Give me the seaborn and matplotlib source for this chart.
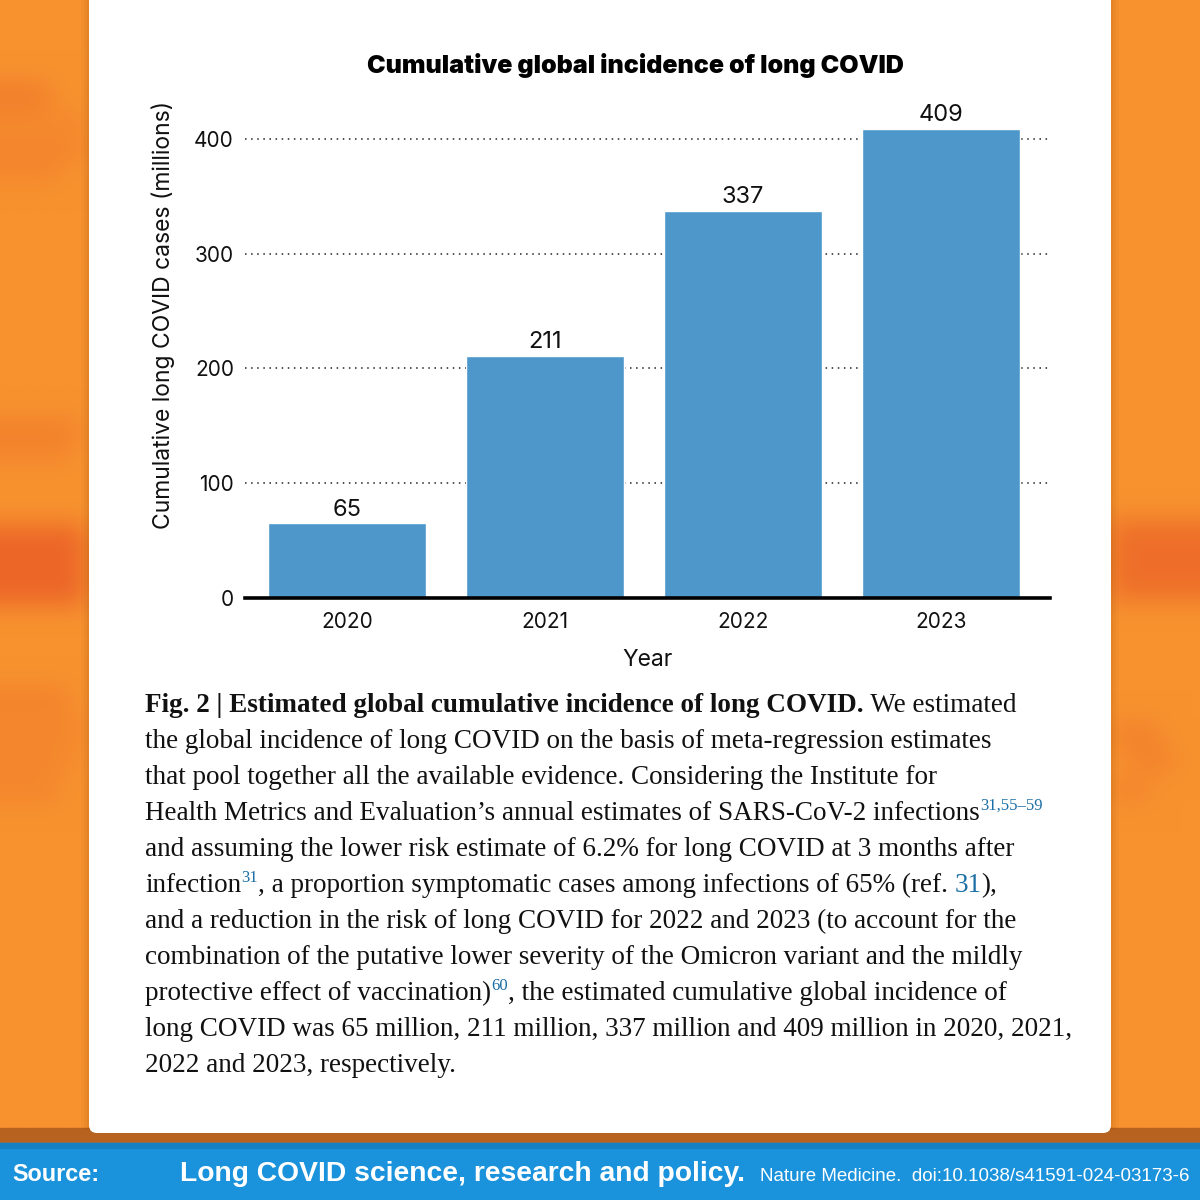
import numpy as np
import matplotlib
matplotlib.use("Agg")
import matplotlib.pyplot as plt
import seaborn as sns
import pandas as pd
from matplotlib.patches import Rectangle, FancyBboxPatch

# chart data
years = ["2020", "2021", "2022", "2023"]
cases = [65, 211, 337, 409]
y_ticks = [0, 100, 200, 300, 400]

title = "Cumulative global incidence of long COVID"
x_label = "Year"
y_label = "Cumulative long COVID cases (millions)"

# caption, one list of (text, kind) per printed line
caption_lines = [
    [("Fig. 2 | Estimated global cumulative incidence of long COVID.", "bold"), (" We estimated", "text")],
    [("the global incidence of long COVID on the basis of meta-regression estimates", "text")],
    [("that pool together all the available evidence. Considering the Institute for", "text")],
    [("Health Metrics and Evaluation\u2019s annual estimates of SARS-CoV-2 infections", "text"), ("31,55\u201359", "sup")],
    [("and assuming the lower risk estimate of 6.2% for long COVID at 3 months after", "text")],
    [("infection", "text"), ("31", "sup"), (", a proportion symptomatic cases among infections of 65% (ref. ", "text"),
     ("31", "ref"), ("),", "text")],
    [("and a reduction in the risk of long COVID for 2022 and 2023 (to account for the", "text")],
    [("combination of the putative lower severity of the Omicron variant and the mildly", "text")],
    [("protective effect of vaccination)", "text"), ("60", "sup"), (", the estimated cumulative global incidence of", "text")],
    [("long COVID was 65 million, 211 million, 337 million and 409 million in 2020, 2021,", "text")],
    [("2022 and 2023, respectively.", "text")],
]

footer = [("Source:", "src"), ("Long COVID science, research and policy.", "head"),
          ("Nature Medicine.  doi:10.1038/s41591-024-03173-6", "doi")]

W, H = 1200, 1200
ORANGE = np.array([247, 146, 47]) / 255
DARK = np.array([236, 102, 40]) / 255
BAR = "#4D97CA"
BLUE_REF = "#1C6FA6"

sns.set_theme(style="white")
chart_font = ["Inter", "Liberation Sans", "DejaVu Sans"]
serif_font = ["Liberation Serif", "DejaVu Serif"]
plt.rcParams["font.family"] = chart_font

fig = plt.figure(figsize=(12, 12), dpi=100)
renderer = fig.canvas.get_renderer()

# background layer in pixel coordinates
bg = fig.add_axes([0, 0, 1, 1], zorder=0)
bg.set_xlim(0, W)
bg.set_ylim(H, 0)
bg.axis("off")

cell = 5
n = W // cell
shade = np.zeros((n, n))
patches = [
    (0, 50, 85, 105, 0.6), (0, 85, 115, 132, 0.35), (0, 85, 142, 160, 0.35), (0, 60, 166, 184, 0.35),
    (0, 80, 420, 440, 0.45), (0, 70, 446, 464, 0.4),
    (0, 89, 525, 605, 1.0), (1111, 1200, 520, 600, 0.8),
    (0, 70, 690, 710, 0.45), (0, 85, 720, 740, 0.35), (0, 75, 750, 770, 0.35), (0, 60, 780, 800, 0.35),
    (1111, 1160, 725, 745, 0.45), (1130, 1175, 752, 772, 0.4), (1111, 1150, 782, 800, 0.35),
]
for x0, x1, y0, y1, s in patches:
    shade[y0 // cell:y1 // cell, x0 // cell:x1 // cell] = s
k = np.ones(5) / 5
for _ in range(3):
    p = np.pad(shade, 2, mode="edge")
    shade = np.apply_along_axis(lambda r: np.convolve(r, k, mode="valid"), 0, p)[:, 2:-2]
    p = np.pad(shade, 2, mode="edge")
    shade = np.apply_along_axis(lambda r: np.convolve(r, k, mode="valid"), 1, p)[2:-2, :]
shade = np.clip(shade, 0, 1)
img = ORANGE[None, None, :] * (1 - shade[..., None]) + DARK[None, None, :] * shade[..., None]
bg.imshow(img, extent=(0, W, H, 0), interpolation="bilinear", aspect="auto", zorder=0)

# card shadow and card
bg.add_patch(Rectangle((0, 1128), W, 16, color="#B8621F", zorder=1))
for i, a in enumerate([0.08, 0.05, 0.03]):
    bg.add_patch(Rectangle((89 - 2 - 3 * i, -10), 1022 + 4 + 6 * i, 1140, color="#7a3a00", alpha=a, lw=0, zorder=1))
bg.add_patch(FancyBboxPatch((89, -20), 1022, 1153, boxstyle="round,pad=0,rounding_size=8",
                            fc="white", ec="none", zorder=2))

# footer bar
bg.add_patch(Rectangle((0, 1143), W, 57, color="#1A93DC", zorder=2))
bg.add_patch(Rectangle((0, 1143), W, 5, color="#1580C4", zorder=2))

# chart
ax = fig.add_axes([245 / W, (H - 598) / H, 805 / W, 482 / H], zorder=3)
ax.set_facecolor("none")
df = pd.DataFrame({"year": years, "cases": cases})
sns.barplot(data=df, x="year", y="cases", color=BAR, saturation=1, width=0.8, ax=ax, zorder=3)
ax.set_xlim(-0.515, 3.551)
ax.set_ylim(0, 420)
ax.set_yticks(y_ticks)
ax.yaxis.grid(True, linestyle=(0, (1, 3)), color="#222222", linewidth=1.1)
ax.set_axisbelow(True)
for side in ["left", "top", "right"]:
    ax.spines[side].set_visible(False)
ax.spines["bottom"].set_linewidth(2.6)
ax.spines["bottom"].set_color("black")
ax.spines["bottom"].set_zorder(4)
ax.tick_params(axis="both", length=0, labelsize=15, labelcolor="#111111")
ax.tick_params(axis="y", pad=8)
ax.tick_params(axis="x", pad=10)
ax.bar_label(ax.containers[0], labels=[str(v) for v in cases], padding=2, fontsize=17, color="#111111")
ax.set_xlabel(x_label, fontsize=16.5, color="#111111", labelpad=12)
ax.set_ylabel(y_label, fontsize=16.5, color="#111111")
ax.yaxis.set_label_coords(-0.087, 0.587)

bg.text(635, 66, title, ha="center", va="center", fontsize=18, fontweight="black",
        family=chart_font, color="black", zorder=5)

# caption
styles = {
    "bold": dict(fontsize=19.5, fontweight="bold", color="#111111", dy=0),
    "text": dict(fontsize=19.5, fontweight="normal", color="#111111", dy=0),
    "sup": dict(fontsize=12, fontweight="normal", color=BLUE_REF, dy=-10),
    "ref": dict(fontsize=19.5, fontweight="normal", color=BLUE_REF, dy=0),
}
base_y = 712
for i, line in enumerate(caption_lines):
    x = 145
    y = base_y + 36 * i
    for txt, kind in line:
        st = styles[kind]
        t = bg.text(x, y + st["dy"], txt, ha="left", va="baseline", fontsize=st["fontsize"],
                    fontweight=st["fontweight"], color=st["color"], family=serif_font, zorder=5)
        x = t.get_window_extent(renderer).x1

# footer text, each piece sized to about the width it takes in the reference
fstyles = {
    "src": dict(x0=12, x1=100, fontweight="bold"),
    "head": dict(x0=180, x1=748, fontweight="bold"),
    "doi": dict(x0=760, x1=1190, fontweight="normal"),
}
for txt, kind in footer:
    st = fstyles[kind]
    t = bg.text(st["x0"], 1181, txt, ha="left", va="baseline", fontsize=15,
                fontweight=st["fontweight"], family=["Liberation Sans", "DejaVu Sans"], color="white", zorder=5)
    w = t.get_window_extent(renderer).width
    t.set_fontsize(15 * (st["x1"] - st["x0"]) / w)

fig.savefig("out.png", dpi=100)
